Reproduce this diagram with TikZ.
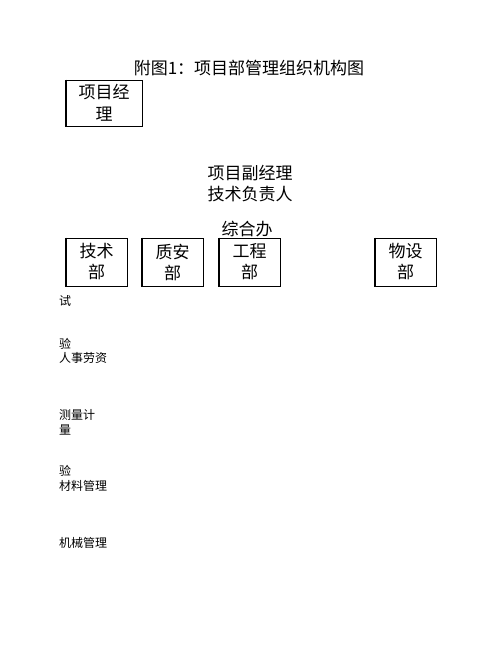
\documentclass[tikz,border=0pt]{standalone}
\usepackage{fontspec}
\newfontfamily\cjk{Noto Sans CJK SC}
\begin{document}
\begin{tikzpicture}[x=1pt,y=-1pt,
  bigtext/.style={font=\cjk\fontsize{17}{21}\selectfont, align=center, inner sep=0pt},
  smalltext/.style={font=\cjk\fontsize{12}{15}\selectfont, align=left, inner sep=0pt, anchor=west},
  deptbox/.style={draw, line width=0.8pt, minimum width=61pt, minimum height=48pt, inner sep=0pt, align=center, font=\cjk\fontsize{17}{21}\selectfont},
  thickside/.style={line width=1.8pt}]
\useasboundingbox (0,0) rectangle (502,649);
% title
\node[bigtext] (title) at (249,68) {附图1：项目部管理组织机构图};
% project manager
\node[deptbox, minimum width=76pt, minimum height=46pt, font=\cjk\fontsize{17}{22}\selectfont] (pm) at (104,103) {项目经\\理};
\draw[thickside] (pm.north west) -- (pm.south west) -- (pm.south east);
% deputy
\node[bigtext, font=\cjk\fontsize{17}{21}\selectfont] (dep) at (250,183.5) {项目副经理\\技术负责人};
\node[bigtext] (office) at (247,229) {综合办};
% departments
\node[deptbox] (tech) at (96.5,262) {技术\\部};
\node[deptbox] (qs) at (172.5,262) {质安\\部};
\node[deptbox] (eng) at (249.5,262) {工程\\部};
\node[deptbox] (mat) at (405.5,262) {物设\\部};
\foreach \b in {tech,qs,eng,mat}{
  \draw[thickside] (\b.north west) -- (\b.south west) -- (\b.south east);
}
% left labels
\node[smalltext] (l1) at (59,301) {试};
\node[smalltext] (l2) at (59,344) {验};
\node[smalltext] (l3) at (59,358) {人事劳资};
\node[smalltext] (l4) at (59,415) {测量计};
\node[smalltext] (l5) at (59,430) {量};
\node[smalltext] (l6) at (59,471) {验};
\node[smalltext] (l7) at (59,486) {材料管理};
\node[smalltext] (l8) at (59,543) {机械管理};
\end{tikzpicture}
\end{document}
